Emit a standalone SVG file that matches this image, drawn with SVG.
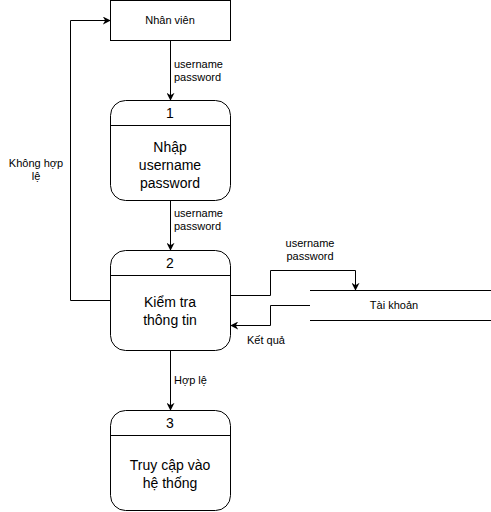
<svg xmlns="http://www.w3.org/2000/svg" width="491" height="512" viewBox="0 0 491 512">
<defs>
<marker id="ah" viewBox="0 0 10 10" refX="9" refY="5" markerWidth="8" markerHeight="8" markerUnits="userSpaceOnUse" orient="auto">
<path d="M0,0 L10,5 L0,10 L3,5 Z" fill="#000"/>
</marker>
</defs>
<style>
text{font-family:"Liberation Sans",Arial,sans-serif;fill:#000}
.s{font-size:11px}
.l{font-size:14px}
.box{fill:#fff;stroke:#000;stroke-width:1}
.c{fill:none;stroke:#000;stroke-width:1;marker-end:url(#ah)}
</style>
<rect width="491" height="512" fill="#fff"/>
<g id="nhanvien">
<rect class="box" x="110.5" y="0.5" width="120" height="40"/>
<text class="s" x="170" y="24" text-anchor="middle">Nhân viên</text>
</g>
<g id="p1">
<rect class="box" x="110.5" y="100.5" width="120" height="100" rx="15"/>
<line x1="110.5" y1="125.5" x2="230.5" y2="125.5" stroke="#000"/>
<text class="l" x="170" y="118" text-anchor="middle">1</text>
<text class="l" x="170" y="152" text-anchor="middle">Nhập</text>
<text class="l" x="170" y="170" text-anchor="middle">username</text>
<text class="l" x="170" y="188" text-anchor="middle">password</text>
</g>
<g id="p2">
<rect class="box" x="110.5" y="250.5" width="120" height="100" rx="15"/>
<line x1="110.5" y1="275.5" x2="230.5" y2="275.5" stroke="#000"/>
<text class="l" x="170" y="268" text-anchor="middle">2</text>
<text class="l" x="170" y="307" text-anchor="middle">Kiểm tra</text>
<text class="l" x="170" y="325" text-anchor="middle">thông tin</text>
</g>
<g id="p3">
<rect class="box" x="110.5" y="410.5" width="120" height="100" rx="15"/>
<line x1="110.5" y1="435.5" x2="230.5" y2="435.5" stroke="#000"/>
<text class="l" x="170" y="428" text-anchor="middle">3</text>
<text class="l" x="170" y="470" text-anchor="middle">Truy cập vào</text>
<text class="l" x="170" y="488" text-anchor="middle">hệ thống</text>
</g>
<g id="taikhoan">
<line x1="310" y1="290.5" x2="491" y2="290.5" stroke="#000"/>
<line x1="310" y1="320.5" x2="491" y2="320.5" stroke="#000"/>
<text class="s" x="394" y="309" text-anchor="middle">Tài khoản</text>
</g>
<g id="connectors">
<path class="c" d="M170.5,40.5 V100"/>
<path class="c" d="M170.5,200.5 V250"/>
<path class="c" d="M170.5,350.5 V410"/>
<path class="c" d="M110.5,300.5 H70.5 V20.5 H110"/>
<path class="c" d="M230.5,295.5 H270.5 V270.5 H355.5 V290"/>
<path class="c" d="M310,305.5 H270.5 V325.5 H231"/>
</g>
<g id="labels">
<text class="s" x="174" y="68">username</text>
<text class="s" x="174" y="81">password</text>
<text class="s" x="174" y="217">username</text>
<text class="s" x="174" y="230">password</text>
<text class="s" x="174" y="384">Hợp lệ</text>
<text class="s" x="36" y="167" text-anchor="middle">Không hợp</text>
<text class="s" x="36" y="180" text-anchor="middle">lệ</text>
<text class="s" x="310" y="247" text-anchor="middle">username</text>
<text class="s" x="310" y="260" text-anchor="middle">password</text>
<text class="s" x="266" y="344" text-anchor="middle">Kết quả</text>
</g>
</svg>
